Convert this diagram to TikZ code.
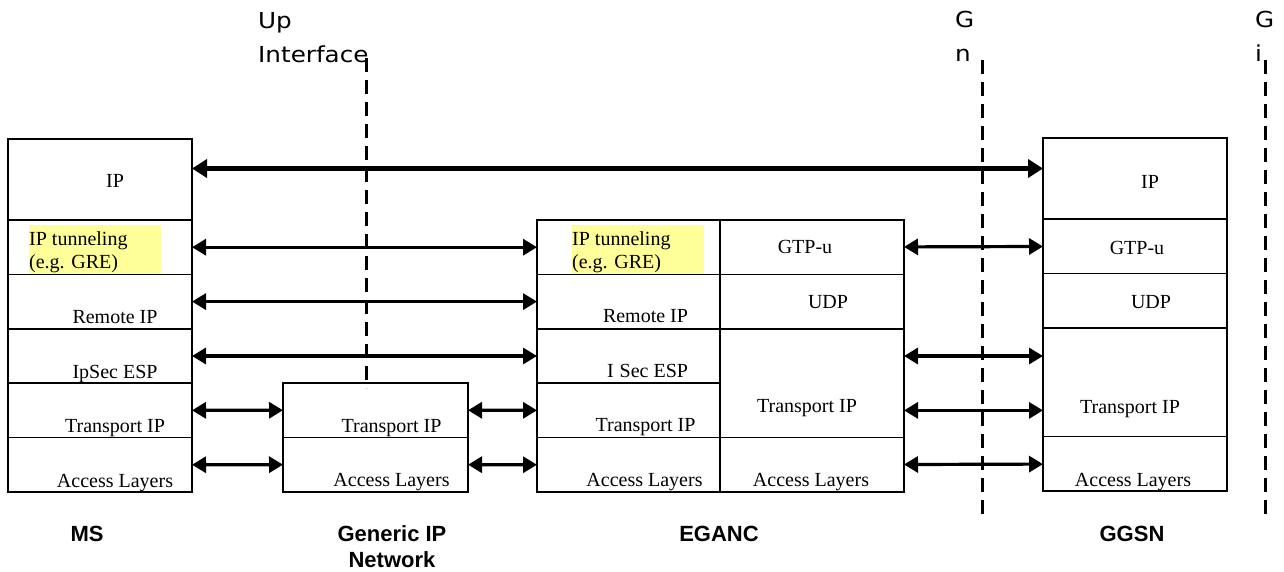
\documentclass[tikz,border=0pt]{standalone}
\usepackage{fontspec}
\setmainfont{Liberation Serif}
\newfontfamily\ifacefont[FakeStretch=1.12]{DejaVu Sans}
\newfontfamily\sysfont{Liberation Sans}
\usetikzlibrary{arrows.meta}
\usetikzlibrary{positioning}
\definecolor{hiyellow}{RGB}{255,255,153}

\tikzset{
  layer/.style={draw, line width=1.6pt, minimum width=184pt, minimum height=54.4pt, inner sep=0pt, outer sep=0pt},
  tall/.style={minimum height=81pt},
  dbl/.style={minimum height=108.8pt},
  ltxt/.style={anchor=base, inner sep=0pt, font=\fontsize{20}{23}\selectfont},
  hl/.style={fill=hiyellow, inner sep=0pt, outer sep=0pt, minimum width=132pt, minimum height=49pt, anchor=north west},
  peer/.style={<->, line width=3.2pt, >={Triangle[length=14pt,width=16pt]}},
  iface/.style={line width=3pt, dash pattern=on 14pt off 8pt},
  ilbl/.style={anchor=base west, align=left, inner sep=0pt, font={\ifacefont\fontsize{22}{34}\selectfont}},
  sys/.style={anchor=base, align=center, inner sep=0pt, font={\sysfont\bfseries\fontsize{22}{26}\selectfont}}
}

\begin{document}
\begin{tikzpicture}[x=1pt,y=-1pt]
  \useasboundingbox (0,0) rectangle (1284,572);

  % MS
  \node[layer, tall] (ms-ip) at (100,179.5) {};
  \node[layer, below=0pt of ms-ip] (ms-tun) {};
  \node[layer, below=0pt of ms-tun] (ms-rip) {};
  \node[layer, below=0pt of ms-rip] (ms-sec) {};
  \node[layer, below=0pt of ms-sec] (ms-tra) {};
  \node[layer, below=0pt of ms-tra] (ms-acc) {};
  \node[hl] (ms-hl) at (29,225) {};

  \node[ltxt] (ms-ip-t) at ([xshift=15pt,yshift=-8.5pt]ms-ip.center) {IP};
  \node[ltxt, anchor=base west, align=left] (ms-tun-t) at ([yshift=-43pt]ms-hl.north west) {IP tunneling\\(e.g. GRE)};
  \node[ltxt] (ms-rip-t) at ([xshift=15pt,yshift=5pt]ms-rip.south) {Remote IP};
  \node[ltxt] (ms-sec-t) at ([xshift=15pt,yshift=5pt]ms-sec.south) {IpSec ESP};
  \node[ltxt] (ms-tra-t) at ([xshift=15pt,yshift=5pt]ms-tra.south) {Transport IP};
  \node[ltxt] (ms-acc-t) at ([xshift=15pt,yshift=5pt]ms-acc.south) {Access Layers};

  % generic IP network
  \node[layer, minimum width=185pt] (gen-tra) at (375.5,410.2) {};
  \node[layer, minimum width=185pt, below=0pt of gen-tra] (gen-acc) {};
  \node[ltxt] (gen-tra-t) at ([xshift=16pt,yshift=5pt]gen-tra.south) {Transport IP};
  \node[ltxt] (gen-acc-t) at ([xshift=16pt,yshift=5pt]gen-acc.south) {Access Layers};

  % EGANC
  \node[layer, minimum width=183pt] (eg-tun) at (628.5,247.2) {};
  \node[layer, minimum width=183pt, below=0pt of eg-tun] (eg-rip) {};
  \node[layer, minimum width=183pt, below=0pt of eg-rip] (eg-sec) {};
  \node[layer, minimum width=183pt, below=0pt of eg-sec] (eg-tra) {};
  \node[layer, minimum width=183pt, below=0pt of eg-tra] (eg-acc) {};
  \node[layer, right=0pt of eg-tun] (eg-gtp) {};
  \node[layer, below=0pt of eg-gtp] (eg-udp) {};
  \node[layer, dbl, below=0pt of eg-udp] (eg-tra2) {};
  \node[layer, below=0pt of eg-tra2] (eg-acc2) {};
  \node[hl] (eg-hl) at (572,225) {};

  \node[ltxt, anchor=base west, align=left] (eg-tun-t) at ([yshift=-43pt]eg-hl.north west) {IP tunneling\\(e.g. GRE)};
  \node[ltxt] (eg-rip-t) at ([xshift=17pt,yshift=6pt]eg-rip.south) {Remote IP};
  \node[ltxt] (eg-sec-t) at ([xshift=19pt,yshift=6pt]eg-sec.south) {I\hspace{6pt}Sec ESP};
  \node[ltxt] (eg-tra-t) at ([xshift=17pt,yshift=6pt]eg-tra.south) {Transport IP};
  \node[ltxt] (eg-acc-t) at ([xshift=16pt,yshift=6pt]eg-acc.south) {Access Layers};
  \node[ltxt] (eg-gtp-t) at ([xshift=-7pt,yshift=-6pt]eg-gtp.center) {GTP-u};
  \node[ltxt] (eg-udp-t) at ([xshift=16pt,yshift=-6.4pt]eg-udp.center) {UDP};
  \node[ltxt] (eg-tra2-t) at ([xshift=-5pt,yshift=-28.8pt]eg-tra2.center) {Transport IP};
  \node[ltxt] (eg-acc2-t) at ([xshift=-1pt,yshift=6pt]eg-acc2.south) {Access Layers};

  % GGSN
  \node[layer, tall] (gg-ip) at (1135,178.5) {};
  \node[layer, below=0pt of gg-ip] (gg-gtp) {};
  \node[layer, below=0pt of gg-gtp] (gg-udp) {};
  \node[layer, dbl, below=0pt of gg-udp] (gg-tra) {};
  \node[layer, below=0pt of gg-tra] (gg-acc) {};

  \node[ltxt] (gg-ip-t) at ([xshift=15pt,yshift=-10.5pt]gg-ip.center) {IP};
  \node[ltxt] (gg-gtp-t) at ([xshift=2pt,yshift=-7.8pt]gg-gtp.center) {GTP-u};
  \node[ltxt] (gg-udp-t) at ([xshift=16pt,yshift=-7.4pt]gg-udp.center) {UDP};
  \node[ltxt] (gg-tra-t) at ([xshift=-5pt,yshift=-30.8pt]gg-tra.center) {Transport IP};
  \node[ltxt] (gg-acc-t) at ([xshift=-2pt,yshift=5pt]gg-acc.south) {Access Layers};

  % interfaces
  \node[ilbl] (up-lbl) at (258,63) {Up\\Interface};
  \node[ilbl] (gn-lbl) at (955,62) {G\\n};
  \node[ilbl] (gi-lbl) at (1255,62) {G\\i};
  \coordinate (up-a) at (366,58);
  \coordinate (up-b) at (366,388);
  \coordinate (gn-a) at (982,60);
  \coordinate (gn-b) at (982,517);
  \coordinate (gi-a) at (1265,60);
  \coordinate (gi-b) at (1265,517);
  \draw[iface] (up-a) -- (up-b);
  \draw[iface] (gn-a) -- (gn-b);
  \draw[iface] (gi-a) -- (gi-b);

  % peer arrows
  \coordinate (ip-lvl) at ([yshift=11pt]ms-ip.east);
  \draw[peer, line width=4.2pt, >={Triangle[length=15pt,width=18pt]}] (ip-lvl) -- (ip-lvl -| gg-ip.west);
  \draw[peer] (ms-tun) -- (eg-tun);
  \draw[peer] (ms-rip) -- (eg-rip);
  \draw[peer] (ms-sec) -- (eg-sec);
  \draw[peer] (ms-tra) -- (gen-tra);
  \draw[peer] (ms-acc) -- (gen-acc);
  \draw[peer] (gen-tra) -- (eg-tra);
  \draw[peer] (gen-acc) -- (eg-acc);
  \draw[peer] (eg-gtp) -- (gg-gtp);
  \draw[peer] (eg-tra2.east |- eg-sec) -- (gg-tra.west |- eg-sec);
  \draw[peer] (eg-tra2.east |- eg-tra) -- (gg-tra.west |- eg-tra);
  \draw[peer] (eg-acc2) -- (gg-acc);

  % node names
  \node[sys] (ms-name) at (87,541) {MS};
  \node[sys] (gen-name) at (392,567) {Generic IP\\Network};
  \node[sys] (eg-name) at (719,541) {EGANC};
  \node[sys] (gg-name) at (1132,541) {GGSN};
\end{tikzpicture}
\end{document}
